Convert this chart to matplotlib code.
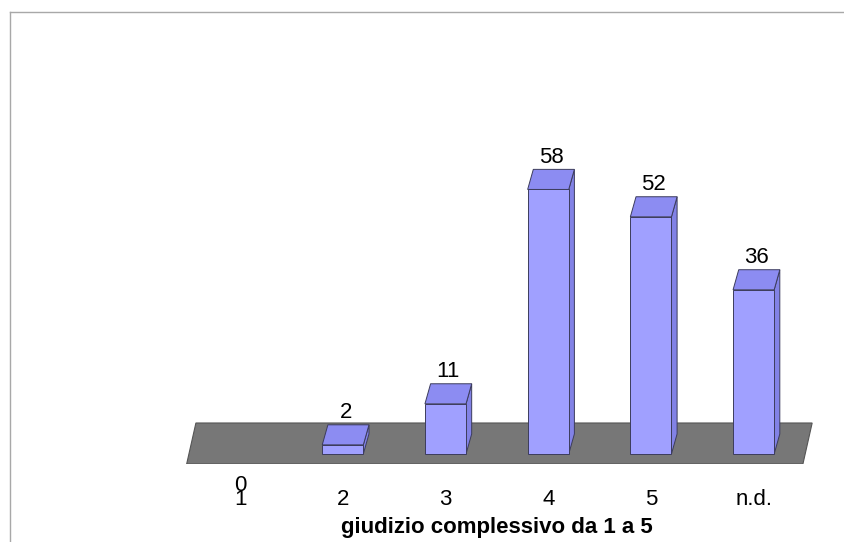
import matplotlib.pyplot as plt
from matplotlib.patches import Polygon
from matplotlib.lines import Line2D

categories = ['1', '2', '3', '4', '5', 'n.d.']
values = [0, 2, 11, 58, 52, 36]
xlabel = 'giudizio complessivo da 1 a 5'

plt.rcParams['font.family'] = ['Liberation Sans', 'DejaVu Sans']
fs = 16

# pseudo 3d geometry (data units)
bar_w = 0.40
dx, dy = 0.055, 4.4

fig = plt.figure(figsize=(8.44, 5.42), dpi=100)
ax = fig.add_axes([10 / 844, 78 / 542, 834 / 844, 452 / 542])
ax.set_xlim(-2.24, 5.88)
ax.set_ylim(-2.19, 96.9)

# grey floor
floor = Polygon([(-0.52, -2.19), (5.48, -2.19), (5.57, 6.8), (-0.43, 6.8)],
                closed=True, facecolor='#777777', edgecolor='#555555', lw=0.8, zorder=1)
ax.add_patch(floor)

edge = '#3c3c5c'
for i, v in enumerate(values):
    if v == 0:
        continue
    x0, x1 = i - bar_w / 2, i + bar_w / 2
    front = Polygon([(x0, 0), (x1, 0), (x1, v), (x0, v)], facecolor='#a0a0ff',
                    edgecolor=edge, lw=0.7, zorder=3)
    side = Polygon([(x1, 0), (x1 + dx, dy), (x1 + dx, v + dy), (x1, v)],
                   facecolor='#8282e6', edgecolor=edge, lw=0.7, zorder=2)
    top = Polygon([(x0, v), (x1, v), (x1 + dx, v + dy), (x0 + dx, v + dy)],
                  facecolor='#8c8cf2', edgecolor=edge, lw=0.7, zorder=3)
    for p in (side, front, top):
        ax.add_patch(p)

# value labels
for i, v in enumerate(values):
    if v == 0:
        ax.text(i, -7.0, str(v), ha='center', va='center', fontsize=fs, zorder=5)
    else:
        ax.text(i + dx / 2, v + dy + 2.6, str(v), ha='center', va='center',
                fontsize=fs, zorder=5)

ax.set_xticks(range(len(categories)))
ax.set_xticklabels(categories, fontsize=fs)
ax.tick_params(axis='x', length=0, pad=18)
ax.set_yticks([])
for s in ax.spines.values():
    s.set_visible(False)
ax.set_xlabel(xlabel, fontsize=fs, fontweight='bold')
ax.xaxis.set_label_coords((497 - 10) / 834, -(527 - 464) / 452)
ax.xaxis.label.set_va('center')

# outer frame lines (top and left)
fig.add_artist(Line2D([10 / 844, 1], [1 - 12 / 542, 1 - 12 / 542],
                      transform=fig.transFigure, color='#a8a8a8', lw=1))
fig.add_artist(Line2D([10 / 844, 10 / 844], [0, 1 - 12 / 542],
                      transform=fig.transFigure, color='#a8a8a8', lw=1))

fig.savefig('out.png', dpi=100)
